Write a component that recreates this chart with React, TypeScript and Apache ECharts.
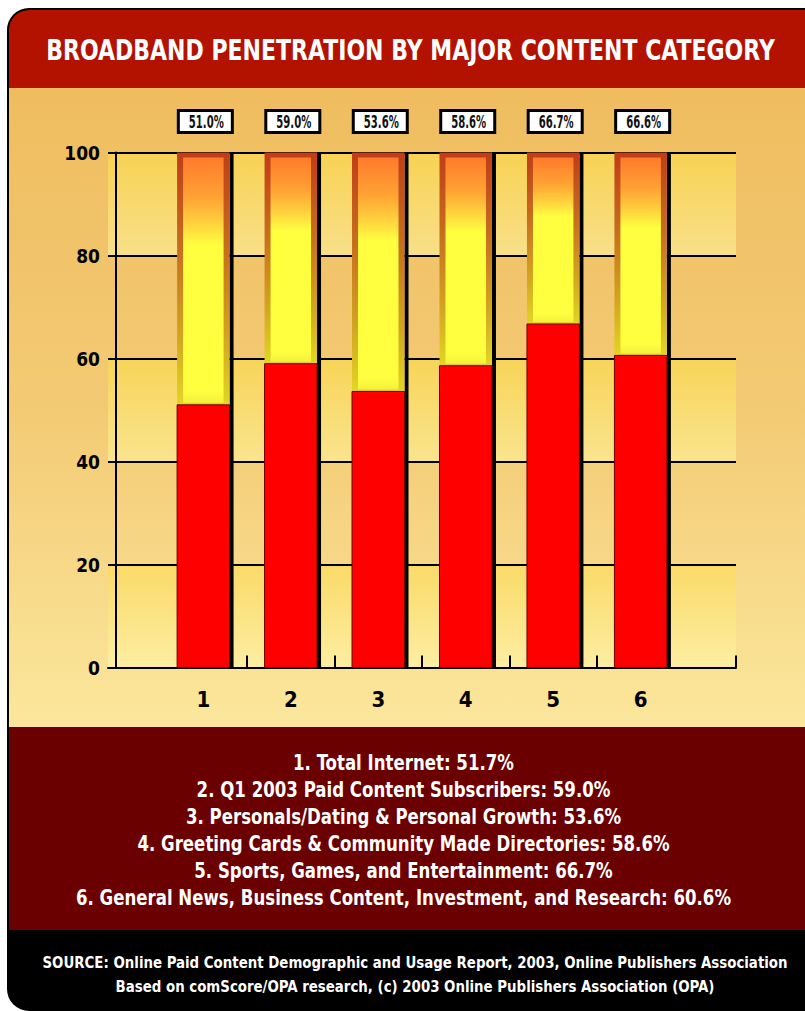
import React, { useEffect, useRef } from "react";
import * as echarts from "echarts";

// ---------- DATA ----------
const title = "BROADBAND PENETRATION BY MAJOR CONTENT CATEGORY";
const categories = ["1", "2", "3", "4", "5", "6"];
const penetration = [51.0, 59.0, 53.6, 58.6, 66.7, 60.6];
const boxLabels = ["51.0%", "59.0%", "53.6%", "58.6%", "66.7%", "66.6%"];
const bandRanges = [
  [0, 20],
  [40, 60],
  [80, 100],
];
const legendLines = [
  "1. Total Internet: 51.7%",
  "2. Q1 2003 Paid Content Subscribers: 59.0%",
  "3. Personals/Dating & Personal Growth: 53.6%",
  "4. Greeting Cards & Community Made Directories: 58.6%",
  "5. Sports, Games, and Entertainment: 66.7%",
  "6. General News, Business Content, Investment, and Research: 60.6%",
];
const sourceLines = [
  "SOURCE: Online Paid Content Demographic and Usage Report, 2003, Online Publishers Association",
  "Based on comScore/OPA research, (c) 2003 Online Publishers Association (OPA)",
];

// ---------- STYLE ----------
const FONT = "'Liberation Sans Narrow', 'DejaVu Sans Condensed', 'Arial Narrow', sans-serif";
const bandTops = ["#FADA68", "#F8D458", "#F8D254"];
const bandBottoms = ["#FDEEA2", "#F9E48E", "#F8E08A"];

function measure(text: string, size: number) {
  const ctx = document.createElement("canvas").getContext("2d")!;
  ctx.font = `bold ${size}px ${FONT}`;
  return ctx.measureText(text).width || 1;
}

export default function App() {
  const ref = useRef<HTMLDivElement>(null);

  useEffect(() => {
    if (!ref.current) return;
    const chart = echarts.init(ref.current, undefined, { renderer: "svg" });

    const titleSize = 29;
    const titleScale = 729 / measure(title, titleSize);
    const legendSize = 20.5;
    const legendScale = 655 / measure(legendLines[5], legendSize);
    const sourceSize = 16;
    const sourceScale = 746 / measure(sourceLines[0], sourceSize);
    const boxSize = 18;
    const boxScale = 35 / measure(boxLabels[3], boxSize);

    const lg = (stops: [number, string][]) =>
      new echarts.graphic.LinearGradient(
        0,
        0,
        0,
        1,
        stops.map(([offset, color]) => ({ offset, color }))
      );

    const textStyle = (text: string, size: number, fill: string) => ({
      text,
      fill,
      fontSize: size,
      fontWeight: "bold",
      fontFamily: FONT,
      align: "center",
      verticalAlign: "middle",
    });

    const graphics: any[] = [
      {
        type: "rect",
        z: -20,
        silent: true,
        shape: { x: 7, y: 8, width: 840, height: 1003, r: 22 },
        style: { fill: "#000" },
      },
      {
        type: "rect",
        z: -19,
        silent: true,
        shape: { x: 9, y: 10, width: 840, height: 78, r: [20, 0, 0, 0] },
        style: { fill: "#B31200" },
      },
      {
        type: "rect",
        z: -19,
        silent: true,
        shape: { x: 9, y: 88, width: 840, height: 639 },
        style: {
          fill: lg([
            [0, "#EFBD5F"],
            [0.5, "#F3CA74"],
            [1, "#FBE79C"],
          ]),
        },
      },
      {
        type: "rect",
        z: -19,
        silent: true,
        shape: { x: 9, y: 727, width: 840, height: 203 },
        style: { fill: "#6A0000" },
      },
      {
        type: "text",
        z: 10,
        silent: true,
        x: 410.5,
        y: 50,
        scaleX: titleScale,
        style: textStyle(title, titleSize, "#fff"),
      },
      ...legendLines.map((t, i) => ({
        type: "text",
        z: 10,
        silent: true,
        x: 403.5,
        y: 763 + 27 * i,
        scaleX: legendScale,
        style: textStyle(t, legendSize, "#fff"),
      })),
      ...sourceLines.map((t, i) => ({
        type: "text",
        z: 10,
        silent: true,
        x: 415,
        y: 962.5 + 24 * i,
        scaleX: sourceScale,
        style: textStyle(t, sourceSize, "#fff"),
      })),
    ];

    const option: any = {
      animation: false,
      graphic: graphics,
      grid: { left: 108, right: 69, top: 152.5, bottom: 343.5, containLabel: false },
      xAxis: {
        type: "value",
        min: -0.09,
        max: 7.09,
        splitLine: { show: false },
        axisLine: { show: true, lineStyle: { color: "#000", width: 2 } },
        axisTick: {
          show: true,
          inside: true,
          length: 12,
          lineStyle: { color: "#000", width: 2 },
          customValues: [1.5, 2.5, 3.5, 4.5, 5.5, 7.09],
        },
        axisLabel: {
          show: true,
          customValues: categories.map((_, i) => i + 1),
          formatter: (v: number) => categories[Math.round(v) - 1] ?? "",
          color: "#000",
          fontSize: 22,
          fontWeight: "bold",
          fontFamily: FONT,
          margin: 21,
        },
      },
      yAxis: {
        type: "value",
        min: 0,
        max: 100,
        interval: 20,
        axisLine: { show: true, lineStyle: { color: "#000", width: 2 } },
        axisTick: { show: false },
        splitLine: { show: true, lineStyle: { color: "#000", width: 2 } },
        axisLabel: {
          color: "#000",
          fontSize: 19,
          fontWeight: "bold",
          fontFamily: FONT,
          margin: 8,
        },
      },
      series: [
        {
          type: "custom",
          z: -1,
          silent: true,
          data: bandRanges.map(([lo, hi]) => [lo, hi]),
          renderItem: (params: any, api: any) => {
            const cs = params.coordSys;
            const yHi = api.coord([0, api.value(1)])[1];
            const yLo = api.coord([0, api.value(0)])[1];
            const i = params.dataIndex;
            return {
              type: "rect",
              shape: { x: cs.x, y: yHi, width: cs.width, height: yLo - yHi },
              style: {
                fill: lg([
                  [0, bandTops[i]],
                  [1, bandBottoms[i]],
                ]),
              },
            };
          },
        },
        {
          type: "custom",
          z: 3,
          silent: true,
          data: penetration.map((v, i) => [i + 1, v]),
          renderItem: (params: any, api: any) => {
            const xv = api.value(0);
            const yv = api.value(1);
            const [cx, yTop] = api.coord([xv, 100]);
            const yVal = api.coord([xv, yv])[1];
            const yBase = api.coord([xv, 0])[1];
            const w = api.size([1, 0])[0] * 0.6;
            const x0 = cx - w / 2;
            const h1 = yVal - yTop;
            return {
              type: "group",
              children: [
                {
                  type: "rect",
                  shape: { x: x0 + w, y: yTop, width: 4, height: yBase - yTop },
                  style: { fill: "#000" },
                },
                {
                  type: "rect",
                  shape: { x: x0, y: yTop, width: w, height: h1 },
                  style: {
                    fill: lg([
                      [0, "#C03C18"],
                      [0.4, "#C8701E"],
                      [0.75, "#D4A820"],
                      [1, "#E2D624"],
                    ]),
                  },
                },
                {
                  type: "rect",
                  shape: { x: x0 + 6, y: yTop + 5, width: w - 12, height: h1 - 7 },
                  style: {
                    fill: lg([
                      [0, "#FF7A2C"],
                      [0.16, "#FFA234"],
                      [0.27, "#FFD23E"],
                      [0.36, "#FFFF40"],
                      [0.95, "#FFFF40"],
                      [1, "#F4F03C"],
                    ]),
                  },
                },
                {
                  type: "rect",
                  shape: { x: x0, y: yVal, width: w, height: yBase - yVal },
                  style: { fill: "#FF0000", stroke: "#6E0000", lineWidth: 1 },
                },
              ],
            };
          },
        },
        {
          type: "custom",
          z: 4,
          silent: true,
          data: penetration.map((v, i) => [i + 1, v]),
          renderItem: (params: any, api: any) => {
            const xv = api.value(0);
            const [cx, yTop] = api.coord([xv, 100]);
            const bx = cx + 2;
            return {
              type: "group",
              children: [
                {
                  type: "rect",
                  shape: { x: bx - 27, y: yTop - 42, width: 54, height: 22 },
                  style: { fill: "#fff", stroke: "#000", lineWidth: 3 },
                },
                {
                  type: "text",
                  x: bx + 1,
                  y: yTop - 30.5,
                  scaleX: boxScale,
                  style: textStyle(boxLabels[params.dataIndex], boxSize, "#111"),
                },
              ],
            };
          },
        },
      ],
    };

    chart.setOption(option);
    return () => chart.dispose();
  }, []);

  return (
    <div
      ref={ref}
      style={{ position: "absolute", left: 0, top: 0, width: 805, height: 1011 }}
    />
  );
}
